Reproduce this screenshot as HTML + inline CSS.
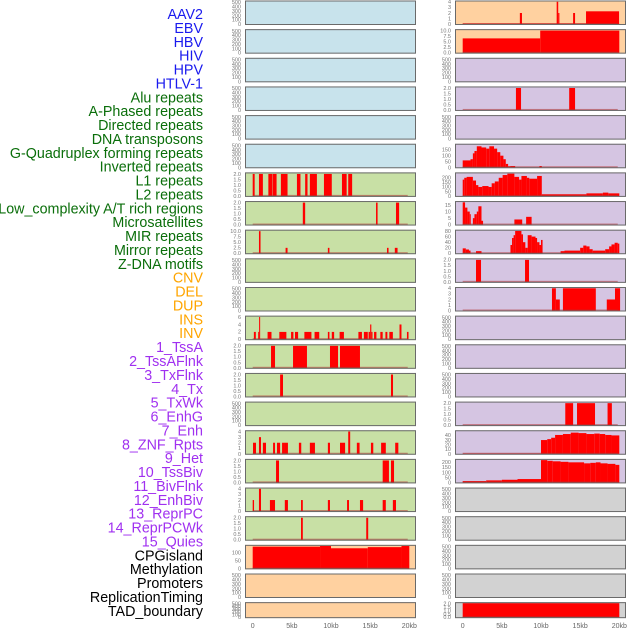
<!DOCTYPE html>
<html><head><meta charset="utf-8">
<style>
html,body{margin:0;padding:0;background:#fff;}
svg{display:block;font-family:"Liberation Sans",sans-serif;}
</style></head>
<body>
<svg id="chart" width="630" height="630" viewBox="0 0 630 630" xmlns="http://www.w3.org/2000/svg"></svg>
<script>
// ---- data ----
const trackLabels = ["AAV2","EBV","HBV","HIV","HPV","HTLV-1","Alu repeats","A-Phased repeats","Directed repeats","DNA transposons","G-Quadruplex forming repeats","Inverted repeats","L1 repeats","L2 repeats","Low_complexity A/T rich regions","Microsatellites","MIR repeats","Mirror repeats","Z-DNA motifs","CNV","DEL","DUP","INS","INV","1_TssA","2_TssAFlnk","3_TxFlnk","4_Tx","5_TxWk","6_EnhG","7_Enh","8_ZNF_Rpts","9_Het","10_TssBiv","11_BivFlnk","12_EnhBiv","13_ReprPC","14_ReprPCWk","15_Quies","CPGisland","Methylation","Promoters","ReplicationTiming","TAD_boundary"];
const labelGroups = [6,13,5,15,5];
const groupColors = ["#1a1aee","#0a6e0a","#ffa500","#a030f0","#000000"];
const xTicks = [0,5,10,15,20];
const xTickLabels = ["0","5kb","10kb","15kb","20kb"];

// segments: [startKb, endKb, value]
const L6 = [[0,0.25,2],[0.8,1.3,2],[2.0,2.5,2],[2.55,3.05,2],[3.6,4.45,2],[5.65,6.1,2],[6.7,7.0,2],[7.3,8.2,2],[9.1,10.1,2],[11.4,12.0,2],[12.2,12.7,2]];
const L7 = [[6.4,6.7,2],[15.75,15.95,2],[18.3,18.7,2]];
const L8 = [[0.8,1.0,10],[4.2,4.45,2.5],[9.6,9.8,2.5],[17.15,17.35,2.5],[18.15,18.5,2.5]];
const L11 = [[0.15,0.4,2],[0.7,0.82,2],[0.82,0.95,6],[1.9,2.4,2],[3.4,4.3,2],[4.9,5.2,2],[5.4,5.8,2],[6.6,7.5,2],[7.9,8.5,2],[9.6,9.8,2],[10.1,10.4,2],[11.1,11.65,2],[13.5,13.95,2],[14.2,14.7,2],[14.8,15.0,2],[15.0,15.15,4],[15.15,15.3,2],[15.5,15.8,2],[16.3,16.6,2],[16.95,17.2,2],[17.45,17.9,2],[18.75,19.0,4],[19.7,19.9,2]];
const L12 = [[2.34,2.85,2],[5.15,6.93,2],[9.87,10.9,2],[11.15,13.7,2]];
const L13 = [[3.5,3.87,2],[17.66,17.92,2]];
const L15 = [[0.04,0.42,2],[0.8,1.06,3],[1.3,1.7,2],[2.6,2.85,2],[3.1,3.5,2],[3.75,4.0,2],[4.0,4.5,2],[5.9,6.2,2],[7.3,7.95,2],[9.6,9.87,2],[11.15,11.8,2],[12.2,12.45,4],[13.3,13.65,2],[15.1,15.4,2],[16.4,17.0,2],[18.2,18.6,2]];
const L16 = [[2.98,3.36,2],[16.6,17.4,2],[17.66,18.05,2]];
const L17 = [[0,0.17,2],[0.8,1.06,4],[2.2,2.85,2],[4.1,4.5,2],[6.17,6.4,2],[9.6,9.87,2],[12.05,12.3,2],[13.7,14.1,2],[16.6,17.0,2],[17.9,18.3,2]];
const L18 = [[6.17,6.4,2],[14.5,14.75,2]];
const L19 = [[0,8.6,136],[8.6,10,140],[10,14.7,126],[14.7,19,133],[19,20,140]];

const R0 = [[0,20,0.1],[7.3,7.57,2],[12.0,12.2,4],[12.2,12.35,2],[14.1,14.35,2],[15.75,19.97,2.3]];
const R1 = [[0,9.9,6.5],[9.9,20,10]];
const R3 = [[6.8,7.45,2],[13.6,14.35,2]];
const R5 = [[0,1.0,60],[1.0,1.3,70],[1.3,1.5,120],[1.5,1.8,140],[1.8,2.4,180],[2.4,3.0,170],[3.0,3.4,160],[3.4,4.0,180],[4.0,4.4,160],[4.4,4.8,130],[4.8,5.2,100],[5.2,5.5,70],[5.5,5.8,30],[5.8,6.1,10],[6.1,6.7,12],[9.8,10.1,12]];
const R6 = [[0,0.2,180],[0.2,0.5,200],[0.5,1.3,210],[1.3,1.7,170],[1.7,2.0,120],[2.0,2.5,100],[2.5,3.3,110],[3.3,3.7,100],[3.7,4.1,140],[4.1,4.6,160],[4.6,5.1,200],[5.1,5.7,230],[5.7,6.6,245],[6.6,7.2,210],[7.2,7.5,180],[7.5,8.2,220],[8.2,8.5,200],[8.5,9.5,190],[9.5,10.1,220],[10.1,15.8,20],[15.8,17.9,30],[17.9,18.6,38],[18.6,20,30]];
const R7 = [[0,0.3,17],[0.3,0.6,13],[0.6,0.9,10],[0.9,1.0,8],[1.3,1.5,5],[1.5,1.8,8],[1.8,2.0,10],[2.0,2.4,14],[2.4,2.6,3],[6.6,7.6,4],[8.1,8.8,6]];
const R8 = [[0,0.4,18],[0.4,0.8,14],[0.8,1.0,10],[1.7,2.4,8],[6.1,6.3,30],[6.3,6.5,55],[6.5,6.7,65],[6.7,7.5,80],[7.5,7.7,68],[7.7,8.0,40],[8.0,8.3,20],[8.3,8.8,65],[8.8,9.3,60],[9.3,9.5,55],[9.5,9.8,40],[9.8,10,30],[10,10.2,48],[12.5,13,8],[13,15,10],[15,15.4,20],[15.4,15.8,28],[15.8,16.2,25],[16.2,16.6,15],[16.6,18.2,10],[18.2,18.7,15],[18.7,19,25],[19,19.4,32],[19.4,19.8,38],[19.8,20,35]];
const R9 = [[1.7,2.34,2],[7.96,8.47,2]];
const R10 = [[11.4,11.9,4],[11.9,12.4,2],[12.8,17.0,4],[18.4,19.45,2],[19.45,20.1,4]];
const R14 = [[13.1,14.1,2],[14.6,16.9,2],[18.5,19.05,2]];
const R15 = [[0,10,1],[10,10.8,30],[10.8,11.3,32],[11.3,11.8,35],[11.8,12.8,41],[12.8,13.8,43],[13.8,14.8,46],[14.8,15.8,45],[15.8,16.8,43],[16.8,17.5,44],[17.5,18.2,43],[18.2,19,41],[19,20,40]];
const R16 = [[0,3,15],[3,5,22],[5,7,28],[7,10,35],[10,10.8,222],[10.8,11.5,215],[11.5,12.5,210],[12.5,13.5,205],[13.5,15.5,200],[15.5,16.3,190],[16.3,17,195],[17,17.6,200],[17.6,18.5,190],[18.5,19.5,185],[19.5,20,175]];
const R21 = [[0,20,2.1]];

const T500 = [0,100,200,300,400,500];
const T2 = [0,0.5,1,1.5,2];
const T4 = [0,1,2,3,4];
const T6 = [0,2,4,6];
const T10 = [0,2.5,5,7.5,10];
const T150 = [0,50,100,150];
const T200 = [0,50,100,150,200];
const T15 = [0,5,10,15];
const T80 = [0,20,40,60,80];
const T40 = [0,10,20,30,40];
const T100 = [0,50,100];

// ---- layout ----
const BLUE="#c8e3ec", GREEN="#c8e0a5", PEACH="#ffd1a0", LAV="#d5c5e2", GRAY="#d2d2d2";
function spec(bg, segs, ticks, top, dec){return {bg:bg,segs:segs,ticks:ticks,top:top,dec:dec};}
const E = null;
const leftPanels = [
 spec(BLUE,E,T500,520,0),spec(BLUE,E,T500,520,0),spec(BLUE,E,T500,520,0),spec(BLUE,E,T500,520,0),spec(BLUE,E,T500,520,0),spec(BLUE,E,T500,520,0),
 spec(GREEN,L6,T2,2.05,1),spec(GREEN,L7,T2,2.05,1),spec(GREEN,L8,T10,10.2,1),spec(GREEN,E,T500,520,0),spec(GREEN,E,T500,520,0),
 spec(GREEN,L11,T6,6.1,0),spec(GREEN,L12,T2,2.05,1),spec(GREEN,L13,T2,2.05,1),spec(GREEN,E,T500,520,0),
 spec(GREEN,L15,T4,4.05,0),spec(GREEN,L16,T2,2.05,1),spec(GREEN,L17,T4,4.05,0),spec(GREEN,L18,T2,2.05,1),
 spec(PEACH,L19,T100,141,0),spec(PEACH,E,T500,520,0),spec(PEACH,E,T500,520,0)];
const rightPanels = [
 spec(PEACH,R0,T4,4.05,0),spec(PEACH,R1,T10,10.2,1),spec(LAV,E,T500,520,0),spec(LAV,R3,T2,2.05,1),spec(LAV,E,T500,520,0),
 spec(LAV,R5,T150,193,0),spec(LAV,R6,T200,248,0),spec(LAV,R7,T15,17.2,0),spec(LAV,R8,T80,81,0),spec(LAV,R9,T2,2.05,1),
 spec(LAV,R10,T4,4.05,0),spec(LAV,E,T500,520,0),spec(LAV,E,T500,520,0),spec(LAV,E,T500,520,0),spec(LAV,R14,T2,2.05,1),
 spec(LAV,R15,T40,49,0),spec(LAV,R16,T200,224,0),spec(GRAY,E,T500,520,0),spec(GRAY,E,T500,520,0),spec(GRAY,E,T500,520,0),
 spec(GRAY,E,T500,520,0),spec(GRAY,R21,T2,2.1,1)];

const NS="http://www.w3.org/2000/svg";
const svg=document.getElementById('chart');
function mk(tag,attrs,parent){const e=document.createElementNS(NS,tag);for(const k in attrs)e.setAttribute(k,attrs[k]);(parent||svg).appendChild(e);return e;}

// labels
let gi=0,cnt=0;
trackLabels.forEach((t,i)=>{
  while(cnt>=labelGroups[gi]){cnt=0;gi++;}
  cnt++;
  const el=mk('text',{x:203,y:19+13.88*i,'text-anchor':'end','font-size':14.3,fill:groupColors[gi]});
  el.textContent=t;
  
  
});

function rowTop(i){return 0.5+28.65*i;}
function drawPanel(p,i,px,side){
  const y0=rowTop(i), h=(i===21?16:24.5), w=171;
  const x0kb=px+7.7, kbScale=7.83;
  const xs=kb=>x0kb+kb*kbScale;
  const ys=v=>y0+h-0.8-(v/p.top)*(h-1.8);
  const g=mk('g',{});
  
  
  const bg=mk('rect',{x:px,y:y0,width:w,height:h,fill:p.bg},g);
  
  
  if(p.segs){
    p.segs.forEach(s=>{
      const r=mk('rect',{x:xs(s[0]),y:ys(s[2]),width:Math.max(1,xs(s[1])-xs(s[0])),height:ys(0)-ys(s[2]),fill:'#ff0000'},g);
      
      
    });
    const bl=mk('rect',{x:xs(0),y:ys(0)-1.2,width:xs(19.8)-xs(0),height:1.4,fill:'#b03030',opacity:0.55},g);
    
    
  }
  mk('rect',{x:px+0.5,y:y0+0.5,width:w-1,height:h-1,fill:'none',stroke:'#6a6a6a','stroke-width':1},g);
  p.ticks.forEach(t=>{
    const tl=mk('text',{x:px-4,y:ys(t)+1.8,'text-anchor':'end','font-size':5.5,fill:'#777'},g);
    tl.textContent=p.dec?t.toFixed(1):String(t);
    
    
  });
}
leftPanels.forEach((p,i)=>drawPanel(p,i,245,'left'));
rightPanels.forEach((p,i)=>drawPanel(p,i,455,'right'));

[245,455].forEach(px=>{
  xTicks.forEach((k,j)=>{
    const t=mk('text',{x:px+7.7+k*7.83,y:628,'text-anchor':'middle','font-size':7,fill:'#666'});
    t.textContent=xTickLabels[j];
    
    
  });
});
</script>
</body></html>
